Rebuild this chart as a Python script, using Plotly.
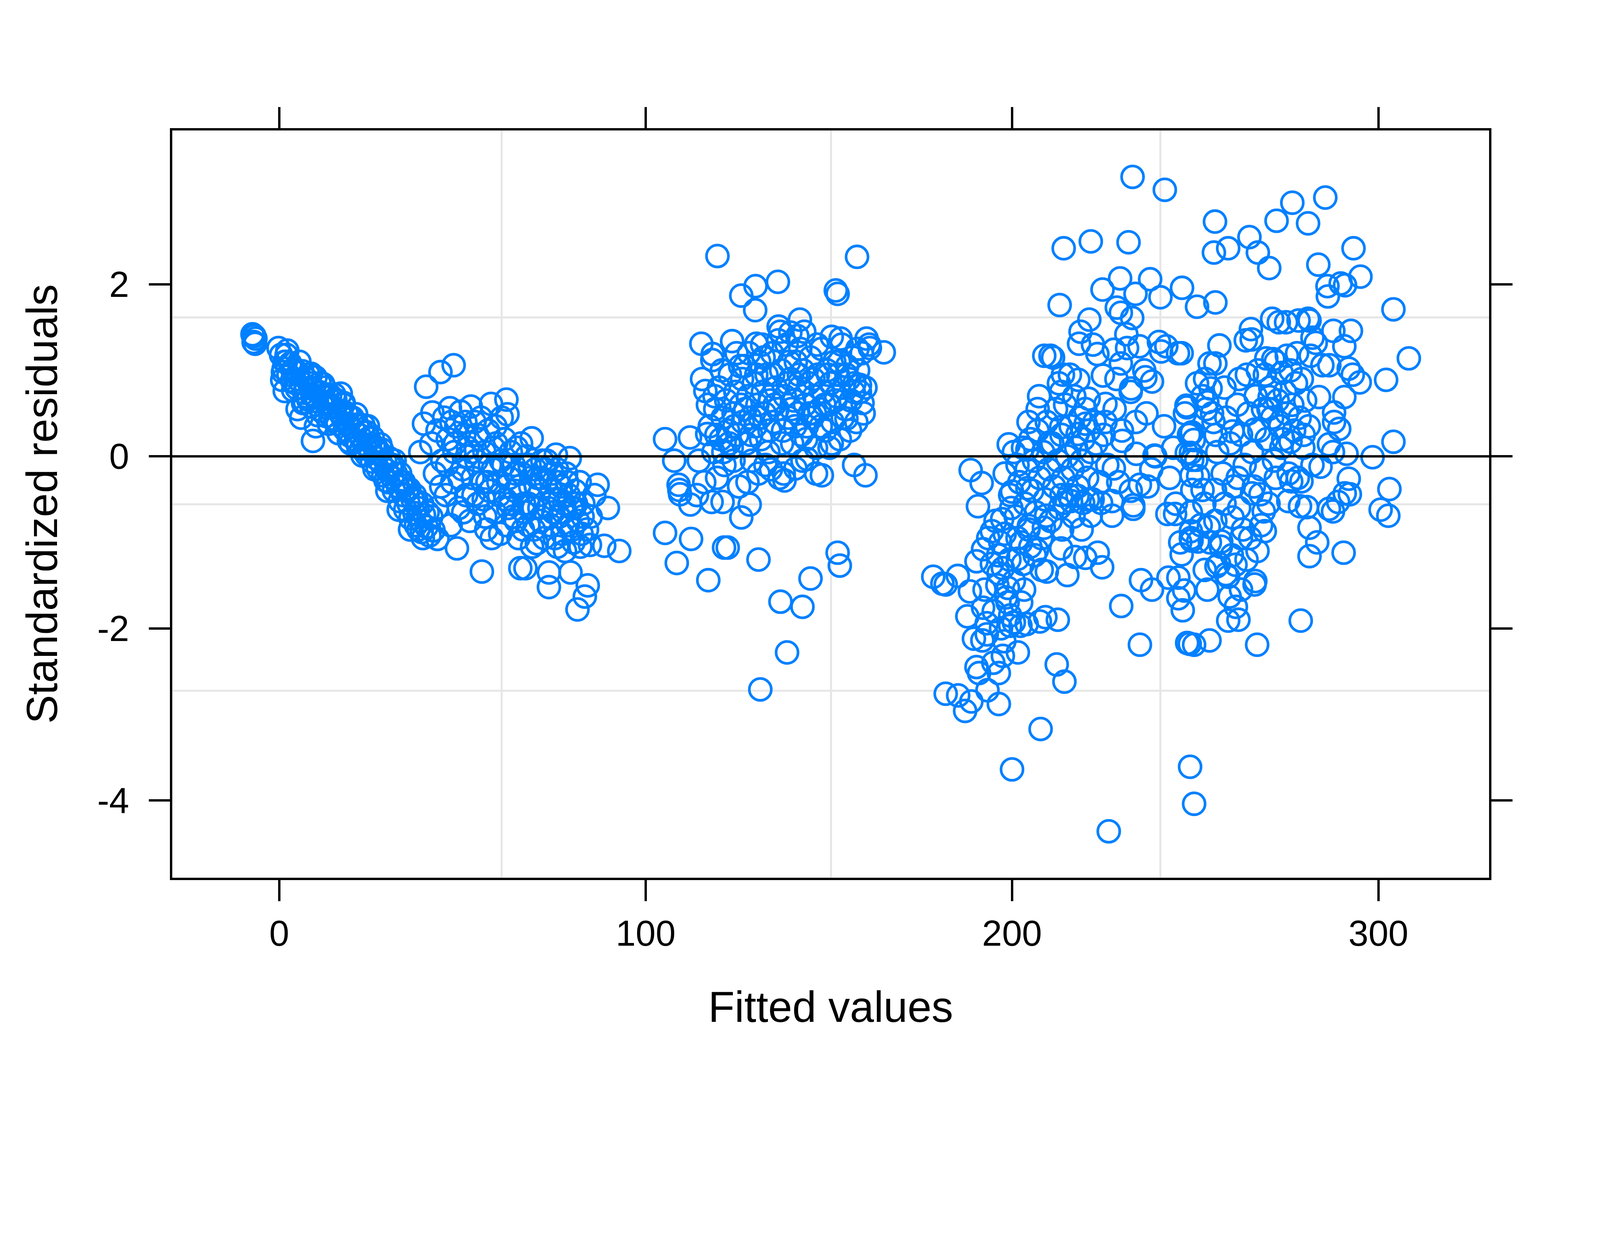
import plotly.graph_objects as go

# --- data ----------------------------------------------------------------

# steep diagonal band near fitted = 0..45
band_fit = [-7.3, -6.8, -6.5, -7.0, -6.6, -0.2, 0.5, 1.2, 1.5, 1.8,
            2.5, 3.0, 3.5, 4.1, 4.8, 5.2, 5.9, 6.3, 6.8, 7.4,
            7.9, 8.3, 8.8, 9.4, 9.9, 10.3, 10.8, 11.4, 11.9, 12.3,
            12.8, 13.3, 13.9, 14.4, 14.8, 15.3, 15.9, 16.4, 16.8, 17.3,
            17.9, 18.4, 18.9, 19.3, 19.8, 20.4, 20.9, 21.3, 21.8, 22.4,
            22.9, 23.3, 23.8, 24.4, 24.9, 25.3, 25.8, 26.4, 26.9, 27.3,
            27.8, 28.4, 28.9, 29.3, 29.8, 30.4, 30.9, 31.3, 31.8, 32.4,
            32.9, 33.3, 33.8, 34.4, 34.9, 35.3, 35.8, 36.4, 36.9, 37.3,
            37.8, 38.4, 38.9, 39.5, 40.2, 41.0, 42.1, 1.5, 9.2, 5.0,
            6.0, 10.0, 3.6, 8.5, 12.6, 16.8,
            1.0, 2.0, 4.5, 6.5, 8.0, 9.0, 11.0, 13.0, 14.0, 15.5,
            17.5, 19.0, 20.0, 21.5, 23.0, 24.0, 25.5, 26.5, 28.0, 29.0,
            30.0, 31.5, 33.0, 34.0, 35.5, 37.0, 38.0, 39.0, 40.5, 43.2,
            0.8, 2.2, 3.8, 5.5, 7.0, 8.7, 10.5, 12.0, 13.5, 15.0,
            16.2, 17.6, 19.5, 21.0, 22.7, 24.2, 26.0, 27.6, 29.5, 31.0,
            32.6, 34.2, 35.7, 37.5, 39.2, 41.5]
band_res = [1.42, 1.40, 1.37, 1.33, 1.31, 1.26, 1.18, 1.02, 1.10, 1.10,
            0.95, 1.08, 0.88, 1.02, 0.79, 0.97, 0.86, 0.99, 0.74, 0.90,
            0.66, 0.85, 0.58, 0.78, 0.92, 0.64, 0.75, 0.53, 0.70, 0.80,
            0.47, 0.62, 0.71, 0.44, 0.57, 0.66, 0.38, 0.52, 0.73, 0.45,
            0.31, 0.50, 0.38, 0.24, 0.44, 0.30, 0.18, 0.37, 0.25, 0.09,
            0.28, 0.14, 0.02, 0.21, 0.08, -0.06, 0.12, -0.02, -0.14, 0.05,
            -0.08, -0.22, -0.05, -0.16, -0.30, -0.12, -0.25, -0.40, -0.20, -0.35,
            -0.52, -0.30, -0.45, -0.62, -0.40, -0.55, -0.72, -0.50, -0.66, -0.80,
            -0.60, -0.75, -0.88, -0.68, -0.82, -0.92, -0.86, 0.76, 0.18, 0.55,
            0.45, 0.35, 1.00, 0.80, 0.63, 0.49,
            0.98, 1.18, 0.85, 0.62, 0.95, 0.72, 0.85, 0.72, 0.58, 0.42,
            0.60, 0.18, 0.45, 0.12, 0.36, 0.28, 0.22, 0.10, 0.08, -0.28,
            -0.02, -0.05, -0.20, -0.30, -0.38, -0.45, -0.85, -0.55, -0.65, -0.96,
            0.89, 1.23, 0.77, 1.10, 0.63, 0.96, 0.48, 0.84, 0.38, 0.72,
            0.27, 0.62, 0.15, 0.49, 0.01, 0.35, -0.15, 0.14, -0.40, -0.10,
            -0.62, -0.34, -0.85, -0.52, -0.95, -0.70]

# second low group, fitted 38..93
tail_fit = [38.5, 39.5, 40.1, 41.5, 41.8, 42.5, 43.2, 44.0, 44.5, 45.0,
            45.5, 46.0, 46.6, 47.2, 47.6, 47.8, 48.3, 48.5, 49.0, 49.5,
            50.0, 50.5, 51.0, 51.5, 52.0, 52.3, 52.8, 53.3, 53.8, 54.2,
            54.7, 55.3, 55.5, 56.0, 56.5, 57.0, 57.4, 57.8, 58.3, 58.8,
            59.2, 59.8, 60.3, 60.7, 61.2, 61.7, 62.0, 62.3, 62.8, 63.2,
            63.8, 64.3, 64.8, 65.3, 65.8, 66.2, 66.8, 67.2, 67.5, 68.0,
            68.5, 68.9, 69.4, 69.9, 70.3, 70.8, 71.3, 71.8, 72.3, 72.8,
            73.3, 73.6, 73.6, 74.0, 74.5, 75.0, 75.5, 75.9, 76.4, 76.9,
            77.3, 77.8, 78.3, 78.8, 79.3, 79.5, 79.8, 80.3, 80.8, 81.4,
            81.5, 82.0, 82.5, 83.0, 83.4, 84.2, 84.8, 85.0, 86.0, 86.9,
            88.7, 89.7, 92.8,
            44.2, 46.8, 48.0, 50.8, 52.5, 54.0, 55.8, 57.5, 59.0, 60.0,
            61.5, 63.0, 64.0, 65.5, 67.0, 68.3, 70.0, 71.0, 72.5, 74.2,
            76.0, 77.5, 79.0, 80.0, 81.0, 82.8, 78.0, 75.2, 69.0, 66.5,
            43.0, 45.8, 47.0, 49.2, 51.2, 53.0, 55.0, 56.8, 58.5, 60.5,
            62.5, 64.5, 66.0, 68.0, 69.5, 71.5, 73.0, 74.8, 76.6, 78.6,
            80.5, 82.2, 84.0, 50.2, 56.2, 62.0, 70.5, 75.8, 58.0, 64.6]
tail_res = [0.05, 0.38, 0.81, 0.15, 0.51, -0.20, 0.30, 0.98, -0.05, 0.45,
            -0.45, 0.20, 0.56, -0.30, 1.06, 0.05, 0.35, -1.07, -0.60, 0.52,
            -0.15, 0.25, -0.45, 0.10, -0.75, 0.58, -0.25, 0.40, -0.05, -0.55,
            0.20, -1.34, -0.30, 0.05, -0.85, 0.30, -0.40, 0.61, -0.15, -0.65,
            0.15, -0.30, -0.90, 0.45, -0.10, -0.50, 0.66, 0.49, -0.25, 0.05,
            -0.70, -0.40, 0.10, -0.95, -1.30, -0.20, -0.55, -1.30, 0.00, -0.80,
            -0.35, 0.21, -0.60, -0.15, -1.01, -0.45, -0.75, -0.05, -0.95, -0.30,
            -0.60, -1.52, -1.35, -0.80, -0.20, -0.50, 0.02, -1.05, -0.70, -0.35,
            -0.90, -0.55, -0.20, -0.80, -0.02, -1.35, -0.60, -1.00, -0.40, -1.78,
            -0.75, -0.30, -0.90, -0.55, -1.63, -1.50, -1.03, -0.70, -0.45, -0.33,
            -1.04, -0.60, -1.10,
            -0.35, -0.80, 0.15, 0.40, 0.05, 0.25, -0.50, -0.10, 0.35, -0.45,
            0.20, -0.55, -0.10, -0.35, -0.65, -0.10, -0.35, -0.60, -0.15, -0.40,
            -0.30, -0.65, -0.45, -0.85, -0.55, -0.70, -1.10, -0.95, -1.05, -0.85,
            -0.60, -0.10, 0.40, -0.25, 0.00, -0.45, 0.45, -0.30, 0.10, -0.05,
            -0.60, -0.20, 0.15, -0.55, -0.85, -0.25, -0.05, -0.65, -0.50, -0.30,
            -0.60, -1.05, -0.85, -0.65, -0.70, -0.80, -0.25, -0.15, -0.95, -0.75]

# middle group, fitted 105..165
mid_fit = [117.5, 118.5, 119.0, 119.5, 120.0, 120.5, 121.0, 121.5, 122.0, 122.5,
           123.0, 123.5, 124.0, 124.5, 125.0, 125.5, 126.0, 126.5, 127.0, 127.5,
           128.0, 128.5, 129.0, 129.5, 130.0, 130.5, 131.0, 131.5, 132.0, 132.5,
           133.0, 133.5, 134.0, 134.5, 135.0, 135.5, 136.0, 136.5, 137.0, 137.5,
           138.0, 138.5, 139.0, 139.5, 140.0, 140.5, 141.0, 141.5, 142.0, 142.5,
           143.0, 143.5, 144.0, 144.5, 145.0, 145.5, 146.0, 146.5, 147.0, 147.5,
           148.0, 148.5, 149.0, 149.5, 150.0, 150.5, 151.0, 151.5, 152.0, 152.5,
           153.0, 153.5, 154.0, 154.5, 155.0, 155.5, 156.0, 156.5, 157.0, 157.5,
           158.0, 158.5, 159.0, 160.0, 161.0, 126.3, 131.8, 136.7, 143.3, 134.2,
           121.2, 119.3, 127.8, 132.7, 142.8, 150.2, 116.0, 114.0, 117.0, 124.8,
           119.6, 130.0, 136.1, 126.1, 129.9, 157.7, 151.9, 152.4, 115.2, 123.6,
           118.3, 118.2, 115.4, 116.3, 130.2, 136.3, 142.1, 139.5, 141.4, 150.8,
           153.2, 160.3, 161.2, 165.0, 159.2, 158.5, 154.8, 105.3, 112.1, 107.8,
           109.0, 109.4, 105.3, 112.4, 108.5, 121.4, 122.4, 117.1, 130.8, 136.8,
           142.8, 145.0, 138.6, 131.3, 152.4, 153.0, 156.9, 160.0, 148.1, 146.5,
           137.9, 137.7, 130.8, 126.1, 128.4, 121.0, 118.0, 112.2, 109.2, 114.5,
           116.8, 140.9, 144.1,
           118.8, 120.8, 122.8, 124.2, 125.8, 127.2, 128.8, 130.2, 131.2, 132.2,
           133.8, 135.2, 136.2, 137.2, 138.8, 139.8, 140.8, 141.8, 142.2, 143.8,
           144.8, 145.8, 146.8, 147.8, 148.8, 149.8, 150.8, 151.8, 152.8, 153.8,
           154.8, 155.8, 156.8, 157.8, 159.5, 134.8, 128.2, 146.2, 139.2, 124.0]
mid_res = [0.35, 0.05, 0.55, -0.25, 0.80, 0.20, 0.45, -0.10, 0.65, 0.30,
           0.95, 0.10, 0.50, 0.75, 0.25, -0.35, 0.60, 0.40, 1.05, 0.15,
           0.70, 0.45, -0.05, 0.85, 0.35, 0.60, 1.10, 0.20, 0.75, 0.50,
           0.95, 0.05, 0.65, 1.20, 0.40, 0.80, 0.55, -0.25, 1.00, 0.30,
           0.70, 1.30, 0.45, 0.90, 0.15, 0.65, 1.10, 0.50, 0.80, 0.25,
           1.00, 0.60, 0.35, 0.85, 1.15, 0.45, 0.70, 0.10, 0.95, 0.55,
           1.25, 0.75, 0.30, 1.00, 0.60, 0.85, 0.40, 1.10, 0.70, 0.95,
           0.20, 1.30, 0.80, 0.55, 1.05, 0.90, 0.65, 1.15, 0.85, 0.40,
           1.00, 0.75, 1.20, 0.80, 1.30, 0.90, 1.30, 1.45, 1.45, -0.15,
           0.05, 0.25, -0.30, -0.10, -0.05, 0.10, -0.30, -0.45, 0.60, 1.20,
           2.33, 1.98, 2.03, 1.87, 1.70, 2.32, 1.93, 1.89, 1.31, 1.34,
           1.19, 1.12, 0.90, 0.76, 1.31, 1.51, 1.59, 1.44, 1.40, 1.39,
           1.37, 1.37, 1.26, 1.21, 0.62, 0.83, 0.44, 0.20, 0.22, -0.05,
           -0.33, -0.44, -0.89, -0.96, -1.24, -1.06, -1.06, -1.44, -1.20, -1.69,
           -1.75, -1.42, -2.28, -2.71, -1.12, -1.27, -0.10, -0.22, -0.22, -0.20,
           -0.28, -0.20, -0.20, -0.71, -0.56, -0.53, -0.53, -0.56, -0.39, -0.05,
           0.26, -0.14, -0.03,
           0.70, 1.00, 0.15, 0.35, 1.05, 0.55, 0.25, 0.95, 0.45, 1.15,
           0.30, 0.60, 1.35, 0.15, 0.85, 0.55, 0.35, 0.95, 1.25, 0.20,
           0.50, 0.90, 1.30, 0.35, 0.60, 0.95, 0.15, 0.65, 1.10, 0.45,
           0.95, 0.30, 0.75, 1.25, 0.50, 0.95, 1.20, 0.50, 1.10, -0.05]

# high group, upper part (fitted 205..310, residuals above ~0.5)
upper_fit = [232.9, 241.7, 214.1, 221.5, 231.8, 213.0, 224.7, 229.5, 237.7, 233.7,
             240.5, 246.4, 228.6, 229.7, 232.8, 221.1, 218.7, 218.3, 222.1, 231.2,
             231.4, 234.8, 240.1, 240.7, 245.3, 242.1, 208.8, 211.2, 223.3, 227.8,
             229.7, 236.1, 238.2, 224.8, 228.5, 232.4, 213.9, 218.1, 207.4, 213.4,
             220.9, 225.5, 247.7,
             255.4, 272.2, 276.5, 285.5, 280.8, 255.1, 259.0, 264.8, 267.1, 270.2,
             293.2, 283.6, 295.1, 286.1, 289.7, 290.9, 286.2, 250.5, 255.5, 304.1,
             271.0, 272.8, 274.8, 278.2, 280.8, 281.2, 265.2, 263.8, 265.4, 256.6,
             287.7, 292.5, 282.0, 282.9, 290.7, 308.3, 246.3, 253.9, 255.5, 269.4,
             271.3, 275.0, 277.8, 281.5, 284.7, 286.6, 291.9, 293.0, 294.9, 302.1,
             252.7, 262.0, 264.1, 254.2, 267.1, 273.6, 279.1, 283.8, 290.7, 287.9,
             270.3, 247.6, 253.3, 254.6]
upper_res = [3.25, 3.10, 2.42, 2.50, 2.49, 1.76, 1.94, 2.07, 2.06, 1.89,
             1.85, 1.96, 1.73, 1.67, 1.61, 1.59, 1.45, 1.31, 1.30, 1.42,
             1.26, 1.28, 1.33, 1.22, 1.20, 1.28, 1.17, 1.15, 1.19, 1.24,
             1.08, 1.00, 0.87, 0.94, 0.90, 0.75, 0.95, 0.89, 0.70, 0.75,
             0.67, 0.61, 0.57,
             2.73, 2.74, 2.95, 3.01, 2.71, 2.37, 2.42, 2.55, 2.37, 2.19,
             2.42, 2.23, 2.09, 1.98, 2.01, 1.99, 1.86, 1.74, 1.79, 1.71,
             1.60, 1.56, 1.56, 1.58, 1.60, 1.58, 1.48, 1.35, 1.36, 1.29,
             1.46, 1.46, 1.38, 1.32, 1.28, 1.14, 1.20, 1.08, 1.08, 1.14,
             1.13, 1.17, 1.20, 1.17, 1.06, 1.06, 1.02, 0.95, 0.86, 0.89,
             0.90, 0.90, 0.95, 0.79, 1.00, 0.97, 0.90, 0.69, 0.69, 0.51,
             0.69, 0.59, 0.63, 0.50]

# high group, lower-left part (fitted 178..250)
left_fit = [188.7, 191.7, 190.7, 178.5, 181.9, 181.0, 185.2, 188.5, 187.8, 192.1,
            189.6, 191.9, 193.1, 193.1, 198.4, 203.3, 198.9, 200.5, 202.3, 199.5,
            209.1, 212.5, 207.6, 197.9, 201.6, 197.5, 194.9, 191.0, 196.4, 212.2,
            229.8, 234.9, 214.3, 235.2, 238.2, 242.4, 244.5, 244.7, 242.7, 245.4,
            245.4, 246.6, 246.3, 245.9, 233.1, 227.3, 224.6, 223.4, 220.0, 215.1,
            217.2, 208.1, 209.5, 213.4, 213.7, 208.7, 206.8, 201.6, 190.3, 192.1,
            196.2, 196.3, 194.5, 197.3, 204.6, 209.3, 200.0, 204.2, 199.1, 204.2,
            210.2, 213.4, 217.9, 220.1, 225.5, 233.8, 230.1, 227.8, 233.9, 239.1,
            238.0, 234.9, 232.4, 227.3, 221.5, 219.4, 216.1, 214.3, 217.9, 220.7,
            224.3, 248.8, 248.8, 249.0, 249.2, 248.8, 248.8, 249.0,
            198.0, 199.5, 200.5, 201.0, 202.0, 202.5, 203.0, 203.5, 204.0, 204.5,
            205.0, 205.5, 206.0, 206.5, 207.0, 207.5, 208.0, 208.5, 209.0, 209.5,
            210.0, 210.5, 211.0, 211.5, 212.0, 212.5, 213.0, 213.5, 214.0, 214.5,
            215.0, 215.5, 216.0, 216.5, 217.0, 217.5, 218.0, 218.5, 219.0, 219.5,
            220.0, 220.5, 221.0, 221.5, 222.0, 222.5, 223.0, 224.0, 225.0, 226.0,
            212.8, 215.8, 210.5, 207.0, 204.5, 213.5, 216.8, 219.0, 201.5, 206.2,
            193.5, 194.5, 195.5, 196.0, 196.8, 197.5, 198.0, 198.8, 199.3, 199.8,
            200.5, 201.5, 202.5, 203.0, 204.0, 205.0, 195.0, 197.0, 199.5, 192.5,
            232.5, 236.4, 236.7, 238.9, 233.1, 247.2, 248.3, 249.2, 228.0, 230.0,
            241.5, 244.0, 229.0, 237.0, 243.0]
left_res = [-0.16, -0.31, -0.58, -1.40, -1.49, -1.48, -1.39, -1.57, -1.86, -1.76,
            -2.12, -2.14, -1.94, -2.07, -1.64, -1.55, -1.53, -1.93, -1.97, -1.97,
            -1.87, -1.90, -1.92, -2.15, -2.28, -2.32, -2.40, -2.52, -2.52, -2.42,
            -1.74, -2.19, -2.62, -1.44, -1.55, -0.67, -0.67, -0.55, -1.41, -1.41,
            -1.65, -1.79, -1.14, -1.00, -0.61, -0.69, -1.29, -1.12, -1.18, -1.38,
            -1.17, -1.32, -1.34, -1.07, -0.85, -0.83, -1.09, -1.19, -1.22, -1.08,
            -1.15, -1.36, -0.87, -0.73, -0.81, -0.69, -0.41, -0.37, 0.14, 0.08,
            0.16, 0.34, 0.26, 0.38, 0.40, 0.40, 0.18, -0.14, 0.03, 0.00,
            -0.15, -0.33, -0.40, -0.52, -0.69, -0.54, -0.52, -0.54, -0.46, -0.50,
            -0.54, 0.26, 0.04, -0.22, -0.39, -0.65, -0.87, -0.98,
            -0.20, -0.45, 0.05, -0.70, -0.30, -1.00, 0.10, -0.55, -0.15, -0.85,
            0.20, -0.40, -0.05, -0.65, 0.30, -0.25, -0.95, 0.05, -0.50, 0.40,
            -0.15, -0.75, 0.15, -0.35, 0.55, -0.05, -0.60, 0.25, -0.25, 0.60,
            0.00, -0.45, 0.35, -0.15, 0.70, 0.10, -0.35, 0.45, -0.05, 0.20,
            0.55, -0.25, 0.30, 0.05, -0.50, 0.40, 0.15, -0.30, 0.25, -0.10,
            0.85, 0.95, 1.17, 0.55, 0.40, -0.45, -0.70, -0.85, -0.10, -1.15,
            -0.95, -1.25, -0.75, -1.50, -1.00, -1.30, -0.90, -1.70, -1.20, -0.60,
            -1.45, -0.95, -1.70, -1.25, -1.95, -1.05, -1.80, -2.00, -1.85, -1.55,
            0.79, 0.92, 0.50, 0.01, -0.57, 0.50, 0.25, -0.04, 0.55, 0.30,
            0.35, 0.10, -0.30, -0.35, -0.25]

# high group, lower-right part (fitted 246..305)
right_fit = [304.1, 298.4, 303.0, 300.6, 302.7, 290.5, 281.2, 283.3, 281.2, 278.8,
             266.9, 253.9, 249.7, 248.5, 259.0, 261.8, 261.1, 266.2, 266.4, 259.4,
             253.3, 247.0, 258.4, 252.6, 261.0, 255.8, 269.0, 268.0, 262.5, 257.1,
             250.8, 248.8, 253.7, 260.2, 268.7, 275.4, 278.6, 280.5, 286.5, 287.6,
             290.8, 292.2, 289.0, 291.9, 284.2, 279.0, 276.2, 272.0, 265.5, 267.8,
             261.6, 255.4, 252.0, 250.8, 250.3, 247.7, 287.6, 291.3, 289.3, 287.9,
             286.5, 279.6, 276.0, 273.2, 266.2, 260.2, 255.6, 249.1, 249.6,
             256.0, 257.5, 258.5, 259.5, 260.5, 261.5, 262.5, 263.5, 264.5, 265.5,
             266.5, 267.5, 268.0, 268.5, 269.5, 270.5, 271.0, 271.5, 272.5, 273.0,
             273.5, 274.5, 275.0, 275.5, 276.5, 277.0, 277.5, 278.5, 279.5, 280.0,
             281.0, 282.0, 269.0, 266.0, 262.0, 258.0, 255.5, 252.5, 257.0, 260.0,
             263.0, 254.0, 251.5, 256.5, 259.0, 262.5, 264.0, 265.0, 267.0, 270.0,
             253.0, 250.5, 252.0, 255.0, 258.0, 276.0, 272.0, 270.0, 274.0, 278.0]
right_res = [0.17, -0.01, -0.38, -0.62, -0.69, -1.12, -1.16, -1.00, -0.83, -1.91,
             -2.19, -2.14, -2.19, -2.18, -1.91, -1.90, -1.75, -1.49, -1.45, -1.63,
             -1.55, -1.56, -1.37, -1.32, -1.26, -1.28, -0.87, -0.80, -0.95, -0.99,
             -0.99, -0.95, -0.82, -0.71, -0.64, -0.52, -0.58, -0.59, -0.61, -0.64,
             -0.43, -0.44, -0.53, -0.26, -0.12, -0.29, -0.29, -0.25, -0.43, -0.44,
             -0.25, -0.39, -0.39, -0.23, -0.04, 0.04, 0.05, 0.03, 0.32, 0.40,
             0.14, 0.25, 0.17, 0.35, 0.31, 0.29, 0.25, 0.28, 0.19,
             0.05, -0.20, 0.45, 0.15, -0.35, 0.60, 0.25, -0.10, 0.50, 0.05,
             0.70, 0.30, -0.15, 0.55, 0.20, 0.80, 0.45, -0.05, 0.65, 0.35,
             0.10, 0.75, 0.50, -0.20, 0.60, 0.30, 0.85, 0.45, 0.10, 0.65,
             0.35, -0.10, 0.95, -0.35, -0.60, -0.55, -0.75, -0.55, -1.05, -1.15,
             -0.85, -1.00, -0.80, -1.25, -1.40, -1.55, -1.20, -0.95, -1.10, -0.55,
             0.55, 0.85, 0.70, 0.40, 0.80, 1.00, 1.10, 0.55, 0.20, -0.25]

# scattered low outliers of the high group
outlier_fit = [200.0, 207.8, 226.4, 248.6, 249.7, 181.9, 185.3, 187.2, 188.9, 196.4,
               193.3, 190.3, 247.8]
outlier_res = [-3.64, -3.17, -4.36, -3.61, -4.04, -2.76, -2.78, -2.96, -2.85, -2.88,
               -2.72, -2.45, -2.17]

x_ticks = [0, 100, 200, 300]
y_ticks = [-4, -2, 0, 2]
y_tick_text = ["-4", "-2", "0", "2"]
grid_x = [60.7, 150.6, 240.5]
grid_y = [1.616, -0.557, -2.725]

fitted = band_fit + tail_fit + mid_fit + upper_fit + left_fit + right_fit + outlier_fit
resid = band_res + tail_res + mid_res + upper_res + left_res + right_res + outlier_res

# the page is photographed a bit larger than css pixels, so size everything down;
# the page offset shifts the figure a little, so take it off the margins
S = 1 / 1.175
BODY = 4
BLUE = '#0080ff'
FONT = 'Liberation Sans, Arial, Helvetica, sans-serif'

fig_w = round(4800 * S) - 8
fig_h = round(3200 * S) - 8
m_l = round(514 * S) - BODY
m_t = round(388 * S) - BODY
plot_w = round(3961 * S)
plot_h = round(2248 * S)

fig = go.Figure()
fig.add_trace(go.Scatter(x=fitted, y=resid, mode='markers',
                         marker=dict(symbol='circle-open', size=66 * S, color=BLUE,
                                     line=dict(width=8 * S, color=BLUE)),
                         hoverinfo='skip', showlegend=False))

shapes = []
for gx in grid_x:
    shapes.append(dict(type='line', xref='x', yref='paper', x0=gx, x1=gx, y0=0, y1=1,
                       line=dict(color='#e6e6e6', width=6 * S), layer='below'))
for gy in grid_y:
    shapes.append(dict(type='line', xref='paper', yref='y', x0=0, x1=1, y0=gy, y1=gy,
                       line=dict(color='#e6e6e6', width=6 * S), layer='below'))
# reference line at zero
shapes.append(dict(type='line', xref='paper', yref='y', x0=0, x1=1, y0=0, y1=0,
                   line=dict(color='black', width=7 * S), layer='above'))

axis_common = dict(ticks='outside', ticklen=round(64 * S), tickwidth=7 * S, tickcolor='black',
                   showline=True, linewidth=7 * S, linecolor='black', mirror='allticks',
                   showgrid=False, zeroline=False,
                   tickfont=dict(family=FONT, size=108 * S, color='black'))

fig.update_layout(
    width=fig_w, height=fig_h,
    paper_bgcolor='white', plot_bgcolor='white',
    margin=dict(l=m_l, r=fig_w - m_l - plot_w, t=m_t, b=fig_h - m_t - plot_h,
                autoexpand=False),
    font=dict(family=FONT, color='black'),
    xaxis=dict(range=[-29.2, 330.2], tickvals=x_ticks, ticklabelstandoff=4, **axis_common),
    yaxis=dict(range=[-4.90, 3.79], tickvals=y_ticks, ticktext=y_tick_text,
               ticklabelstandoff=32, **axis_common),
    shapes=shapes,
    annotations=[
        dict(text='Fitted values', xref='paper', yref='paper', x=0.5, y=-0.1726,
             xanchor='center', yanchor='middle', showarrow=False,
             font=dict(family=FONT, size=130 * S, color='black')),
        dict(text='Standardized residuals', xref='paper', yref='paper', x=-0.099, y=0.5,
             xanchor='center', yanchor='middle', textangle=-90, showarrow=False,
             font=dict(family=FONT, size=130 * S, color='black')),
    ],
)

fig.write_html("out.html")
